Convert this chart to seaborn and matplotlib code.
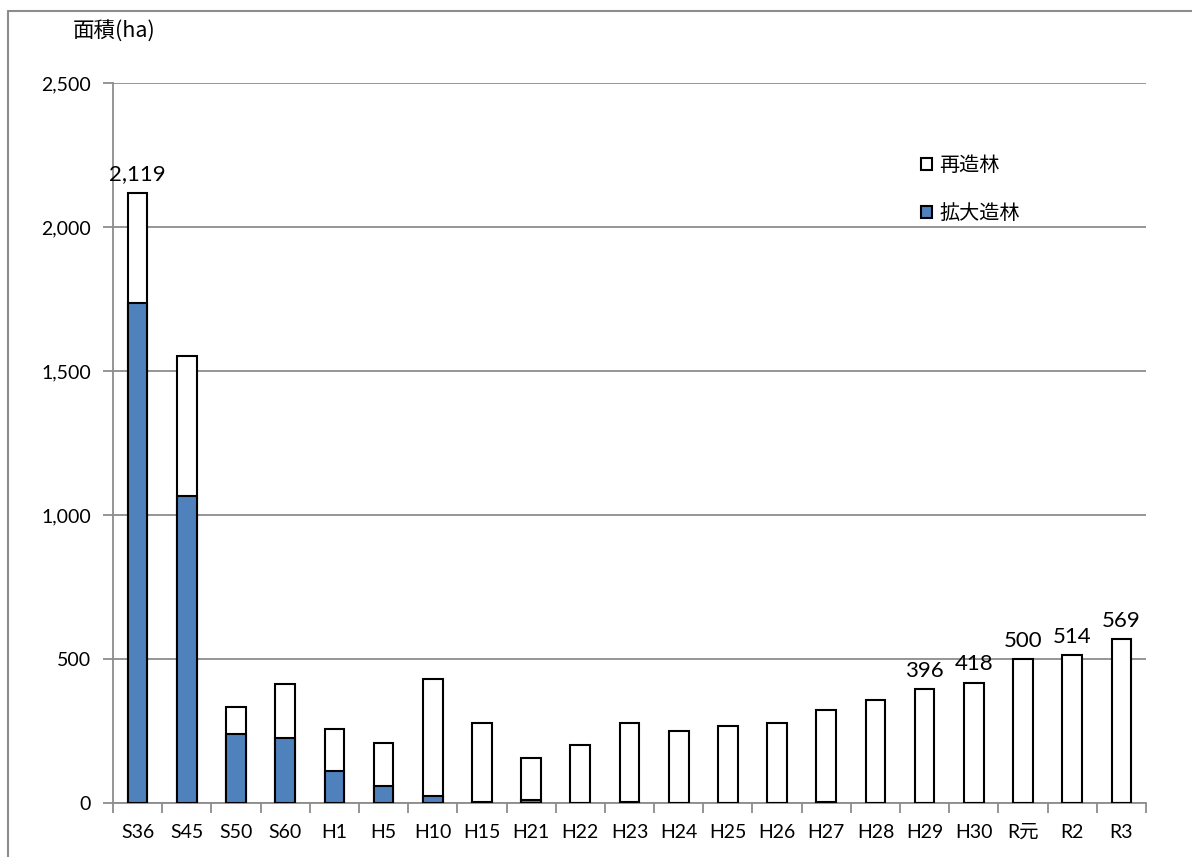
import numpy as np
import pandas as pd
import matplotlib
matplotlib.use('Agg')
import matplotlib.pyplot as plt
from matplotlib.patches import Patch
from matplotlib.lines import Line2D
from matplotlib.ticker import FuncFormatter, MultipleLocator
import seaborn as sns

# ============================================================
# Data (ha)
# ============================================================
years = ['S36', 'S45', 'S50', 'S60', 'H1', 'H5', 'H10', 'H15', 'H21', 'H22', 'H23',
         'H24', 'H25', 'H26', 'H27', 'H28', 'H29', 'H30', 'R元', 'R2', 'R3']
total = [2119, 1553, 332, 414, 256, 209, 431, 277, 157, 200, 277,
         251, 266, 277, 324, 357, 396, 418, 500, 514, 569]
kakudai = [1736, 1067, 238, 226, 111, 60, 24, 4, 10, 0, 4,
           0, 0, 0, 4, 0, 0, 0, 0, 0, 0]           # 拡大造林
saizou = [t - k for t, k in zip(total, kakudai)]  # 再造林
labeled = ['S36', 'H29', 'H30', 'R元', 'R2', 'R3']

BLUE = '#4F81BD'
GRAY = '#8c8c8c'

sns.set_style('white')
plt.rcParams['font.family'] = ['Lato', 'Noto Sans CJK JP', 'DejaVu Sans']
plt.rcParams['text.color'] = 'black'
plt.rcParams['xtick.color'] = 'black'
plt.rcParams['ytick.color'] = 'black'
CJK = ['Noto Sans CJK JP', 'DejaVu Sans']

df = pd.DataFrame({'year': years, 'total': total, 'kakudai': kakudai, 'saizou': saizou})

W, H = 1192, 857
fig = plt.figure(figsize=(W / 100, H / 100), dpi=100)
ax = fig.add_axes([113 / W, 54 / H, 1033 / W, 720 / H])

# stacked: white total bar, blue 拡大造林 drawn over its lower part
sns.barplot(data=df, x='year', y='total', color='white', edgecolor='black',
            linewidth=1.5, width=0.4, saturation=1, ax=ax, zorder=3)
sns.barplot(data=df, x='year', y='kakudai', color=BLUE, edgecolor='black',
            linewidth=1.5, width=0.4, saturation=1, ax=ax, zorder=3)

# data labels
for i, (y, t) in enumerate(zip(years, total)):
    if y in labeled:
        ax.annotate(f'{t:,}', (i, t), xytext=(0, 6), textcoords='offset points',
                    ha='center', va='bottom', fontsize=16, color='black')

ax.set_xlim(-0.5, len(years) - 0.5)
ax.set_ylim(0, 2500)
ax.yaxis.set_major_locator(MultipleLocator(500))
ax.yaxis.set_major_formatter(FuncFormatter(lambda v, p: f'{int(v):,}'))
ax.set_xlabel('')
ax.set_ylabel('')

ax.set_xticks(np.arange(-0.5, len(years), 1), minor=True)
ax.tick_params(axis='x', which='major', bottom=True, length=0, pad=15, labelsize=14,
               labelcolor='black')
ax.tick_params(axis='x', which='minor', bottom=True, length=7, width=1.3, color=GRAY)
ax.tick_params(axis='y', left=True, length=7, width=1.3, color=GRAY, pad=9, labelsize=14,
               labelcolor='black')

ax.yaxis.grid(True, color=GRAY, linewidth=1.3)
ax.set_axisbelow(True)
for s in ['top', 'right']:
    ax.spines[s].set_visible(False)
for s in ['left', 'bottom']:
    ax.spines[s].set_color(GRAY)
    ax.spines[s].set_linewidth(1.3)

# legend
handles = [Patch(facecolor='white', edgecolor='black', lw=1.5, label='再造林'),
           Patch(facecolor=BLUE, edgecolor='black', lw=1.5, label='拡大造林')]
ax.legend(handles=handles, loc='upper left',
          bbox_to_anchor=((921 - 113) / 1033, (803 - 155) / 720),
          frameon=False, handlelength=0.55, handleheight=0.55, handletextpad=0.35,
          labelspacing=1.35, borderpad=0, borderaxespad=0,
          prop={'family': CJK, 'size': 14.5})

# axis unit label
fig.text(73 / W, 1 - 31 / H, '面積(ha)', ha='left', va='center', fontsize=15.5,
         family=CJK, color='black')

# outer frame (chart area border)
fig.add_artist(Line2D([8 / W, 8 / W], [0, 1 - 11 / H], transform=fig.transFigure,
                      color=GRAY, lw=1.5))
fig.add_artist(Line2D([8 / W, 1], [1 - 11 / H, 1 - 11 / H], transform=fig.transFigure,
                      color=GRAY, lw=1.5))

fig.savefig('out.png', dpi=100)
